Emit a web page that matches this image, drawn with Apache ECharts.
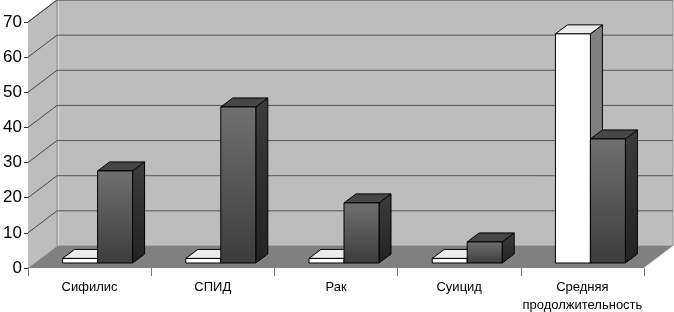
<!DOCTYPE html>
<html>
<head>
<meta charset="utf-8">
<script src="https://cdn.jsdelivr.net/npm/echarts@6/dist/echarts.min.js"></script>
<style>html,body{margin:0;padding:0;background:#fff;}#c{width:674px;height:312px;}</style>
</head>
<body>
<div id="c"></div>
<script>
var categories = ['Сифилис', 'СПИД', 'Рак', 'Суицид', 'Средняя\nпродолжительность'];
var whiteValues = [1.3, 1.3, 1.3, 1.3, 65.2];
var darkValues = [26.2, 44.4, 17.1, 6, 35.3];
var yTicks = [0, 10, 20, 30, 40, 50, 60, 70];

// 3D look (pixel offsets)
var WALL_DX = 29, WALL_DY = -22;   // depth of the whole plot box
var FRONT_DX = 8, FRONT_DY = -5;   // bar front plane inside the box
var BAR_DX = 12, BAR_DY = -9;      // bar depth
var BAR_FRAC = 0.284;

var chart = echarts.init(document.getElementById('c'), null, {renderer: 'canvas'});

function wallsRender(params, api) {
  var cs = params.coordSys;
  var x0 = cs.x, x1 = cs.x + cs.width;
  var yB = api.coord([0, 0])[1];
  var yT = api.coord([0, yTicks[yTicks.length - 1]])[1];
  var ch = [];
  ch.push({type: 'polygon', shape: {points: [[x0, yT], [x0 + WALL_DX, yT + WALL_DY], [x0 + WALL_DX, yB + WALL_DY], [x0, yB]]},
    style: {fill: '#bdbdbd', stroke: null}});
  ch.push({type: 'rect', shape: {x: x0 + WALL_DX, y: yT + WALL_DY, width: x1 - x0, height: yB - yT},
    style: {fill: '#bdbdbd', stroke: '#8c8c8c', lineWidth: 1}});
  ch.push({type: 'line', shape: {x1: x0 + WALL_DX + 1.5, y1: yT + WALL_DY, x2: x0 + WALL_DX + 1.5, y2: yB + WALL_DY},
    style: {stroke: '#d6d6d6', lineWidth: 1}});
  ch.push({type: 'polygon', shape: {points: [[x0, yB], [x1, yB], [x1 + WALL_DX, yB + WALL_DY], [x0 + WALL_DX, yB + WALL_DY]]},
    style: {fill: '#808080', stroke: null}});
  ch.push({type: 'line', shape: {x1: x1, y1: yB, x2: x1 + WALL_DX, y2: yB + WALL_DY},
    style: {stroke: '#e0e0e0', lineWidth: 1}});
  ch.push({type: 'line', shape: {x1: x0, y1: yT, x2: x0 + WALL_DX, y2: yT + WALL_DY},
    style: {stroke: '#555', lineWidth: 1}});
  for (var i = 1; i < yTicks.length; i++) {
    var y = api.coord([0, yTicks[i]])[1];
    ch.push({type: 'line', shape: {x1: x0, y1: y, x2: x0 + WALL_DX, y2: y + WALL_DY},
      style: {stroke: '#444', lineWidth: 1}});
    ch.push({type: 'line', shape: {x1: x0 + WALL_DX, y1: y + WALL_DY, x2: x1 + WALL_DX, y2: y + WALL_DY},
      style: {stroke: '#555', lineWidth: 1}});
  }
  return {type: 'group', children: ch, silent: true};
}

function makeBarRender(pos, front, side, top) {
  return function (params, api) {
    var cat = api.value(0), val = api.value(1);
    var c0 = api.coord([cat, 0]);
    var c1 = api.coord([cat, val]);
    var band = api.size([1, 0])[0];
    var bw = band * BAR_FRAC;
    var xl = c0[0] + (pos === 0 ? -bw : 0) + FRONT_DX;
    var xr = xl + bw;
    var yb = c0[1] + FRONT_DY;
    var yt = c1[1] + FRONT_DY;
    var st = {stroke: '#000', lineWidth: 1, lineJoin: 'round'};
    return {type: 'group', children: [
      {type: 'polygon', shape: {points: [[xr, yt], [xr + BAR_DX, yt + BAR_DY], [xr + BAR_DX, yb + BAR_DY], [xr, yb]]},
        style: Object.assign({fill: side}, st)},
      {type: 'polygon', shape: {points: [[xl, yt], [xl + BAR_DX, yt + BAR_DY], [xr + BAR_DX, yt + BAR_DY], [xr, yt]]},
        style: Object.assign({fill: top}, st)},
      {type: 'rect', shape: {x: xl, y: yt, width: bw, height: yb - yt},
        style: Object.assign({fill: front}, st)}
    ]};
  };
}

var darkFront = new echarts.graphic.LinearGradient(0, 0, 0, 1, [{offset: 0, color: '#707070'}, {offset: 1, color: '#3c3c3c'}]);
var darkSide = new echarts.graphic.LinearGradient(0, 0, 0, 1, [{offset: 0, color: '#3c3c3c'}, {offset: 1, color: '#222'}]);

var option = {
  backgroundColor: '#fff',
  animation: false,
  grid: {left: 28, right: 30, top: 22, bottom: 44, containLabel: false, outerBoundsMode: 'none'},
  xAxis: {
    type: 'category',
    data: categories,
    axisLine: {show: false},
    axisTick: {show: true, length: 8, lineStyle: {color: '#777'}},
    axisLabel: {fontFamily: 'Liberation Sans, Arial, sans-serif', fontSize: 13, color: '#000', margin: 10, lineHeight: 18, interval: 0},
    splitLine: {show: false}
  },
  yAxis: {
    type: 'value', min: 0, max: 70, interval: 10,
    axisLine: {show: true, lineStyle: {color: '#333'}},
    axisTick: {show: true, length: 4, lineStyle: {color: '#333'}},
    axisLabel: {fontFamily: 'Liberation Sans, Arial, sans-serif', fontSize: 17, color: '#000', margin: 6},
    splitLine: {show: false}
  },
  series: [
    {type: 'custom', z: 1, renderItem: wallsRender, data: [[0, 0]], silent: true, clip: false},
    {type: 'custom', z: 2, name: 's1', renderItem: makeBarRender(0, '#ffffff', '#808080', '#ececec'),
      data: whiteValues.map(function (v, i) { return [i, v]; }), encode: {x: 0, y: 1}, clip: false},
    {type: 'custom', z: 3, name: 's2', renderItem: makeBarRender(1, darkFront, darkSide, '#474747'),
      data: darkValues.map(function (v, i) { return [i, v]; }), encode: {x: 0, y: 1}, clip: false}
  ]
};
chart.setOption(option);
</script>
</body>
</html>
